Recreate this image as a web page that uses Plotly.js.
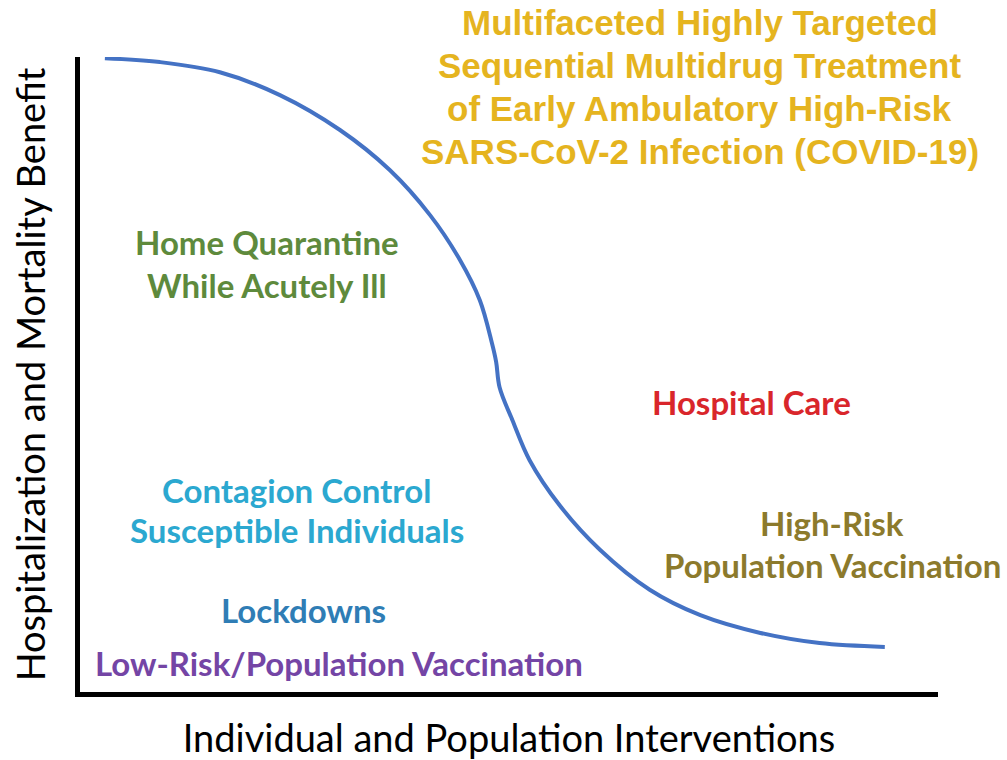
<!DOCTYPE html>
<html>
<head>
<meta charset="utf-8">
<script src="https://cdn.plot.ly/plotly-3.0.1.min.js"></script>
<style>html,body{margin:0;padding:0;background:#fff;}#chart{width:1007px;height:760px;}</style>
</head>
<body>
<div id="chart"></div>
<script>
// Curve (arbitrary 0-100 units on both axes)
const curveX = [2.9, 9.3, 16.3, 23.3, 30.3, 36.1, 40.8, 44.3, 46.6, 48.0, 48.5, 48.9, 50.4, 52.4, 55.9, 60.6, 66.4, 72.3, 79.3, 86.2, 93.8];
const curveY = [99.8, 99.2, 97.6, 94.0, 88.5, 82.2, 75.1, 68.0, 61.7, 55.0, 52.0, 48.0, 42.8, 36.5, 29.4, 22.4, 16.1, 12.1, 9.3, 7.7, 7.1];

const titleLines = ["Multifaceted Highly Targeted", "Sequential Multidrug Treatment", "of Early Ambulatory High-Risk", "SARS-CoV-2 Infection (COVID-19)"];
const homeLines = ["Home Quarantine", "While Acutely Ill"];
const hospitalLines = ["Hospital Care"];
const contagionLines = ["Contagion Control", "Susceptible Individuals"];
const highRiskLines = ["High-Risk", "Population Vaccination"];
const lockdownLines = ["Lockdowns"];
const lowRiskLines = ["Low-Risk/Population Vaccination"];
const xTitle = "Individual and Population Interventions";
const yTitle = "Hospitalization and Mortality Benefit";

const anns = [];
function addBlock(lines, x, yTop, spacing, color, size, family) {
  lines.forEach((t, i) => {
    anns.push({
      text: t, xref: 'paper', yref: 'paper', x: x, y: yTop - i * spacing,
      xanchor: 'center', yanchor: 'middle', showarrow: false,
      font: {family: family, size: size, color: color, weight: 'bold'}
    });
  });
}
const calibri = 'Lato';
addBlock(titleLines, 0.7226, 1.0551, 0.0682, '#E5B41F', 35, 'Liberation Sans, Arial');
addBlock(homeLines, 0.2179, 0.7087, 0.0678, '#5E8A3C', 33, calibri);
addBlock(hospitalLines, 0.7832, 0.4567, 0.06, '#D9262B', 33, calibri);
addBlock(contagionLines, 0.2529, 0.3181, 0.0630, '#2BA8D0', 33, calibri);
addBlock(highRiskLines, 0.8765, 0.2661, 0.0661, '#8C7A2C', 33, calibri);
addBlock(lockdownLines, 0.261, 0.1291, 0.06, '#2F7DB5', 33, calibri);
addBlock(lowRiskLines, 0.3019, 0.0457, 0.06, '#7445A5', 33, calibri);

const trace = {
  x: curveX, y: curveY, type: 'scatter', mode: 'lines',
  line: {color: '#4472C4', width: 4, shape: 'spline', smoothing: 1},
  hoverinfo: 'skip', cliponaxis: false
};

const layout = {
  width: 1007, height: 760,
  margin: {l: 80, r: 69, t: 57, b: 68},
  paper_bgcolor: '#ffffff', plot_bgcolor: '#ffffff',
  showlegend: false,
  xaxis: {
    range: [0, 100], showgrid: false, zeroline: false, showticklabels: false, ticks: '',
    showline: true, linecolor: '#000', linewidth: 5, mirror: false,
    title: {text: xTitle, standoff: 36, font: {family: calibri, size: 38, color: '#000'}}
  },
  yaxis: {
    range: [0, 100], showgrid: false, zeroline: false, showticklabels: false, ticks: '',
    showline: true, linecolor: '#000', linewidth: 5, mirror: false,
    title: {text: yTitle, standoff: 19, font: {family: calibri, size: 38, color: '#000'}}
  },
  annotations: anns
};

Plotly.newPlot('chart', [trace], layout, {displayModeBar: false, staticPlot: true});
</script>
</body>
</html>
